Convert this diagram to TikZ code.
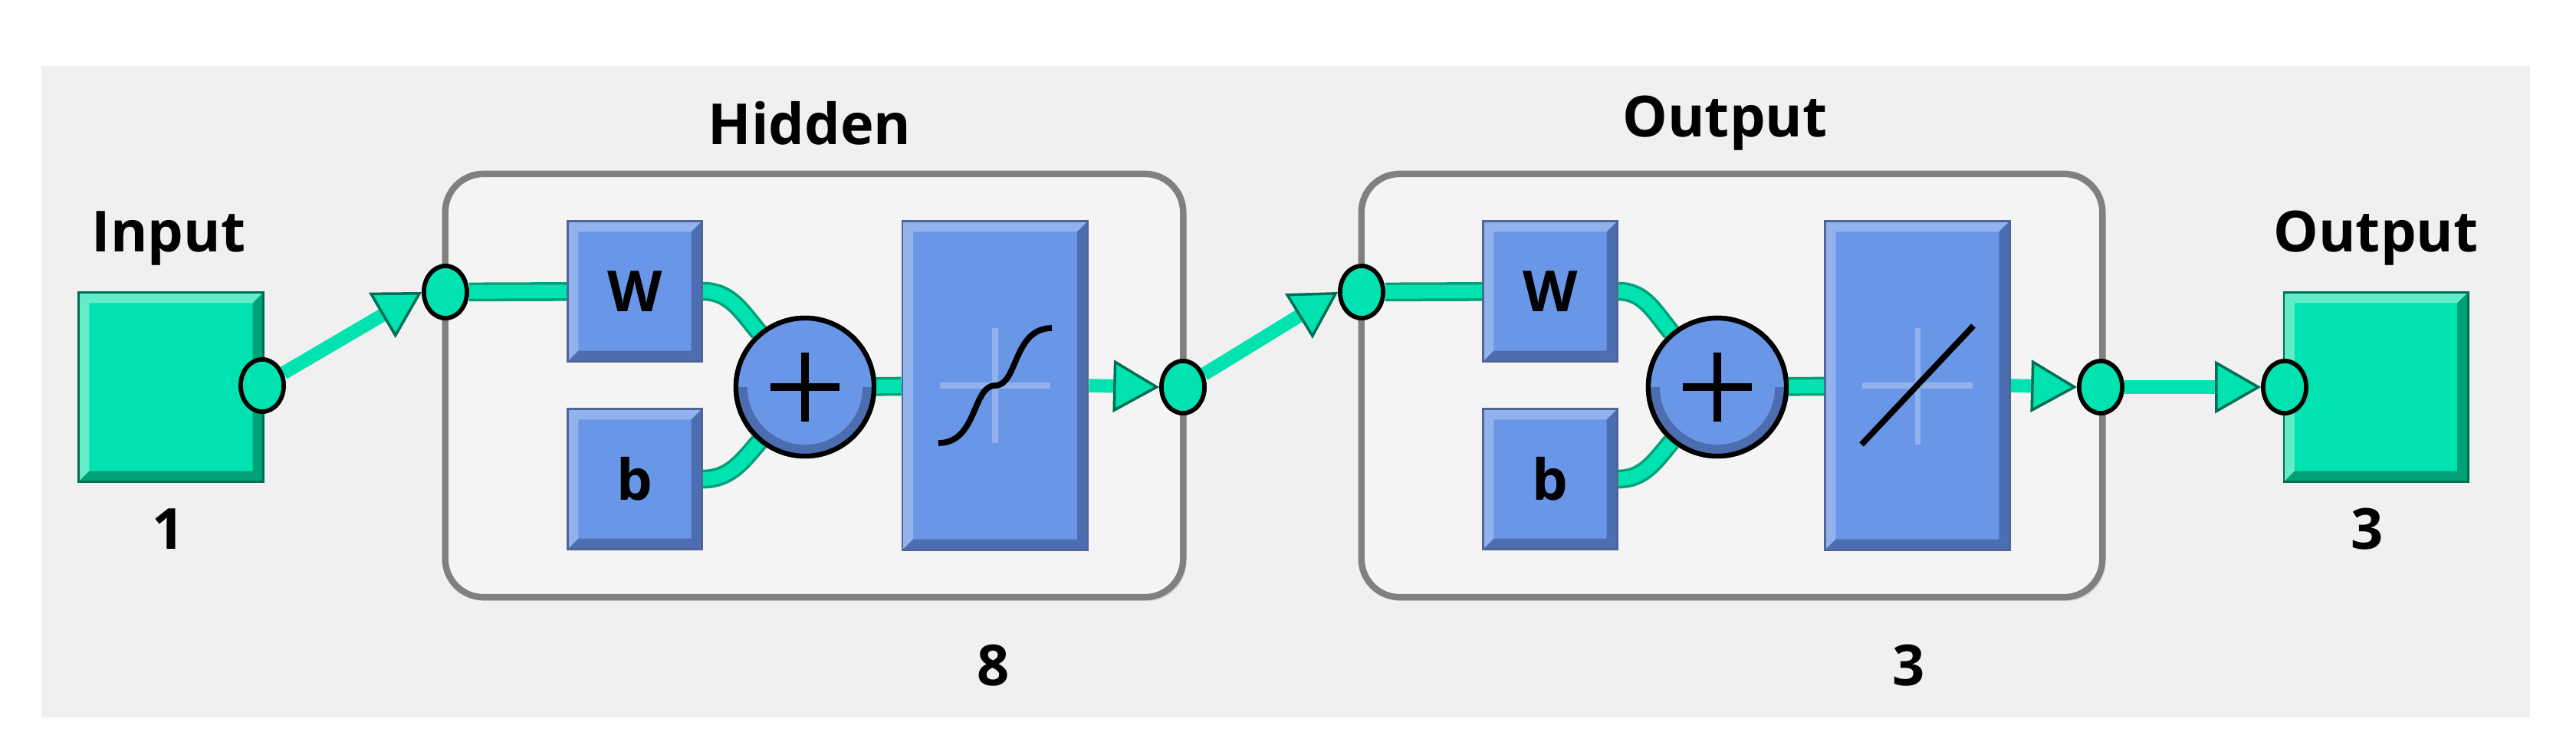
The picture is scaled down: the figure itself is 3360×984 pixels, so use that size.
\documentclass[tikz,border=0pt]{standalone}
\usepackage{fontspec}
\setmainfont{Open Sans}
\usetikzlibrary{arrows.meta,shapes.geometric,calc}
\definecolor{tealA}{RGB}{0,227,176}
\definecolor{tealL}{RGB}{100,235,200}
\definecolor{tealD}{RGB}{0,160,120}
\definecolor{tealE}{RGB}{0,110,85}
\definecolor{blueA}{RGB}{106,150,232}
\definecolor{blueL}{RGB}{146,178,238}
\definecolor{blueD}{RGB}{76,110,176}
\definecolor{blueE}{RGB}{80,100,150}
\definecolor{bgG}{RGB}{240,240,240}
\definecolor{layerF}{RGB}{244,244,244}
\definecolor{layerD}{RGB}{128,128,128}
\begin{document}
\begin{tikzpicture}[x=0.01cm,y=-0.01cm,
  lbl/.style={font=\fontsize{21}{24}\selectfont\bfseries, inner sep=0pt},
  bevel/.style n args={4}{rectangle, inner sep=0pt, fill=#1, draw=#4, line width=0.8pt,
    path picture={
      \fill[#2] (path picture bounding box.north west) -- (path picture bounding box.north east)
        -- ($(path picture bounding box.north east)+(-14,14)$) -- ($(path picture bounding box.north west)+(14,14)$) -- cycle;
      \fill[#2] (path picture bounding box.north west) -- (path picture bounding box.south west)
        -- ($(path picture bounding box.south west)+(14,-14)$) -- ($(path picture bounding box.north west)+(14,14)$) -- cycle;
      \fill[#3] (path picture bounding box.south west) -- (path picture bounding box.south east)
        -- ($(path picture bounding box.south east)+(-14,-14)$) -- ($(path picture bounding box.south west)+(14,-14)$) -- cycle;
      \fill[#3] (path picture bounding box.north east) -- (path picture bounding box.south east)
        -- ($(path picture bounding box.south east)+(-14,-14)$) -- ($(path picture bounding box.north east)+(-14,14)$) -- cycle;
    }},
  gbox/.style={bevel={tealA}{tealL}{tealD}{tealE}},
  bbox/.style={bevel={blueA}{blueL}{blueD}{blueE}},
  port/.style={ellipse, minimum width=0.56cm, minimum height=0.68cm, inner sep=0pt, fill=tealA, draw=black, line width=1.6pt},
  layer/.style={rectangle, rounded corners=0.5cm, fill=layerF, draw=layerD, line width=2.4pt,
    preaction={fill=black!15, transform canvas={xshift=0.04cm,yshift=-0.05cm}}},
  conn/.style={draw=tealA, line width=5pt, preaction={draw=tealD, line width=7pt}},
  arr/.style={draw=tealA, line width=5pt,
    -{Triangle[length=0.6cm,width=0.68cm,line width=1pt,fill=tealA,color=tealE]}},
  sumc/.style={circle, minimum size=1.8cm, inner sep=0pt, draw=black, line width=1.8pt, fill=blueA,
    path picture={\fill[blueD] (path picture bounding box.south west) rectangle ([yshift=-0.9cm]path picture bounding box.north east);
      \fill[blueA] (path picture bounding box.center) circle (0.75cm);}},
  xh/.style={draw=blueL, line width=2pt}
]
\useasboundingbox (0,0) rectangle (3360,984);
\fill[bgG] (54,86) rectangle (3300,936);

% layers
\node[layer, minimum width=9.62cm, minimum height=5.52cm] (hid) at (1062,503) {};
\node[layer, minimum width=9.66cm, minimum height=5.52cm] (out) at (2259,503) {};
\node[lbl] (thid) at (1056,161) {Hidden};
\node[lbl] (tout) at (2250,161) {Output};
\node[lbl] (nhid) at (1296,868) {8};
\node[lbl] (nout) at (2490,868) {3};

% input/output boxes
\node[gbox, minimum width=2.41cm, minimum height=2.47cm] (inp) at (223,505) {};
\node[gbox, minimum width=2.40cm, minimum height=2.47cm] (opb) at (3099,505) {};
\node[lbl] (tin) at (220,311) {Input};
\node[lbl] (n1) at (220,690) {1};
\node[lbl] (topb) at (3099,311) {Output};
\node[lbl] (n3) at (3088,690) {3};

% hidden components
\node[bbox, minimum width=1.75cm, minimum height=1.83cm] (W1) at (828,380) {\fontsize{21}{24}\selectfont\bfseries W};
\node[bbox, minimum width=1.75cm, minimum height=1.83cm] (b1) at (828,625) {\fontsize{21}{24}\selectfont\bfseries b};
\node[bbox, minimum width=2.42cm, minimum height=4.29cm] (f1) at (1298,503) {};
\draw[xh] (1226,503) -- (1370,503) (1298,428) -- (1298,578);
\draw[line width=2.2pt] (1224,578) .. controls (1275,578) and (1268,503) .. (1298,503) .. controls (1328,503) and (1321,428) .. (1372,428);

% output layer components
\node[bbox, minimum width=1.75cm, minimum height=1.83cm] (W2) at (2022,380) {\fontsize{21}{24}\selectfont\bfseries W};
\node[bbox, minimum width=1.75cm, minimum height=1.83cm] (b2) at (2022,625) {\fontsize{21}{24}\selectfont\bfseries b};
\node[bbox, minimum width=2.41cm, minimum height=4.29cm] (f2) at (2501,503) {};
\draw[xh] (2429,503) -- (2573,503) (2501,428) -- (2501,580);
\draw[line width=2.2pt] (2428,580) -- (2574,425);

% coordinates for sums / ports
\coordinate (s1c) at (1050,505);
\coordinate (s2c) at (2240,505);
\node[sumc] (s1) at (s1c) {};
\node[sumc] (s2) at (s2c) {};
\node[port] (p0) at (342,503) {};
\node[port] (p1) at (581,381) {};
\node[port] (p2) at (1543,505) {};
\node[port] (p3) at (1776,381) {};
\node[port] (p4) at (2740,505) {};
\node[port] (p5) at (2980,505) {};

% connectors
\draw[arr] (p0) -- (p1.west);
\draw[conn] (p1) -- (W1);
\draw[conn] (W1.east) to[out=0,in=130] (s1.130);
\draw[conn] (b1.east) to[out=0,in=230] (s1.230);
\draw[conn] (s1) -- (f1);
\draw[arr] (f1.east) -- (p2.west);
\draw[arr] (p2) -- (p3.west);
\draw[conn] (p3) -- (W2);
\draw[conn] (W2.east) to[out=0,in=130] (s2.130);
\draw[conn] (b2.east) to[out=0,in=230] (s2.230);
\draw[conn] (s2) -- (f2);
\draw[arr] (f2.east) -- (p4.west);
\draw[arr] (p4) -- (p5.west);

% redraw ports and sums on top
\foreach \p in {p0,p1,p2,p3,p4,p5} \node[port] at (\p) {};
\node[sumc] at (s1c) {};
\draw[line width=3pt] (1050,460) -- (1050,550) (1005,505) -- (1095,505);
\node[sumc] at (s2c) {};
\draw[line width=3pt] (2240,460) -- (2240,550) (2195,505) -- (2285,505);
\end{tikzpicture}
\end{document}
